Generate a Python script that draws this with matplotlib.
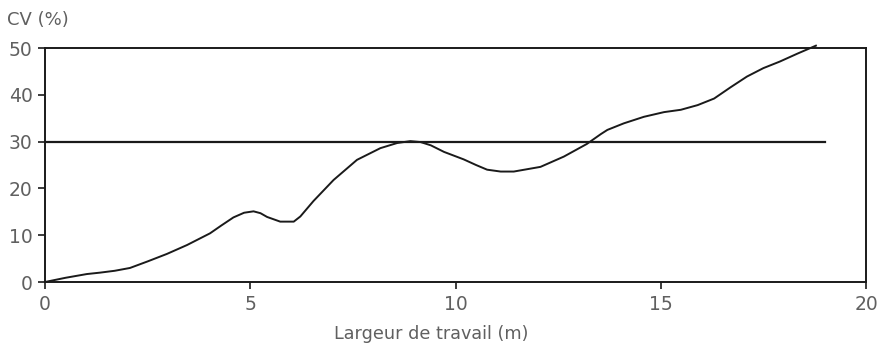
import matplotlib
matplotlib.use("Agg")
import matplotlib.pyplot as plt

# Coefficient of variation against working width
largeur = [0.0, 0.5, 1.02, 1.34, 1.7, 2.07, 2.5, 2.97, 3.46, 4.02, 4.3, 4.59, 4.85,
           5.08, 5.25, 5.41, 5.73, 6.06, 6.22, 6.54, 7.03, 7.6, 8.17, 8.58, 8.9,
           9.15, 9.4, 9.72, 10.2, 10.5, 10.77, 11.1, 11.42, 12.07, 12.64, 13.2,
           13.54, 13.7, 14.1, 14.59, 15.08, 15.49, 15.9, 16.3, 16.7, 17.1, 17.5,
           17.9, 18.33, 18.78]
cv = [0.0, 0.9, 1.7, 2.0, 2.4, 3.0, 4.4, 6.0, 7.9, 10.4, 12.1, 13.8, 14.8,
      15.1, 14.7, 13.9, 12.9, 12.9, 14.0, 17.3, 21.8, 26.1, 28.6, 29.7, 30.1,
      29.9, 29.2, 27.8, 26.2, 25.0, 24.0, 23.6, 23.6, 24.6, 26.8, 29.5,
      31.6, 32.5, 33.9, 35.3, 36.3, 36.8, 37.8, 39.2, 41.6, 43.9, 45.7,
      47.1, 48.8, 50.5]

seuil = 30
seuil_fin = 19
x_ticks = [0, 5, 10, 15, 20]
y_ticks = [0, 10, 20, 30, 40, 50]

plt.rcParams["font.family"] = ["DejaVu Sans"]
text_color = "#606060"
ink = "#1a1a1a"

fig = plt.figure(figsize=(8.78, 3.47), dpi=100)
ax = fig.add_axes([45 / 878, 1 - 282 / 347, (866 - 45) / 878, (282 - 48) / 347])

ax.plot(largeur, cv, color=ink, lw=1.4, clip_on=False, zorder=3,
        solid_joinstyle="round")
ax.plot([0, seuil_fin], [seuil, seuil], color=ink, lw=1.6, zorder=2)

ax.set_xlim(0, 20)
ax.set_ylim(0, 50)
ax.set_xticks(x_ticks)
ax.set_yticks(y_ticks)
for s in ax.spines.values():
    s.set_color(ink)
    s.set_linewidth(1.4)

ax.tick_params(axis="both", colors=ink, labelcolor=text_color, labelsize=13.5,
               length=5, width=1.2, direction="out")
ax.tick_params(axis="y", pad=4)
ax.tick_params(axis="x", pad=4)

fig.text(7 / 878, 1 - 20 / 347, "CV (%)", fontsize=13, color=text_color,
         ha="left", va="center")
fig.text(431 / 878, 1 - 334 / 347, "Largeur de travail (m)", fontsize=12.7,
         color=text_color, ha="center", va="center")

fig.savefig("out.png", dpi=100)
